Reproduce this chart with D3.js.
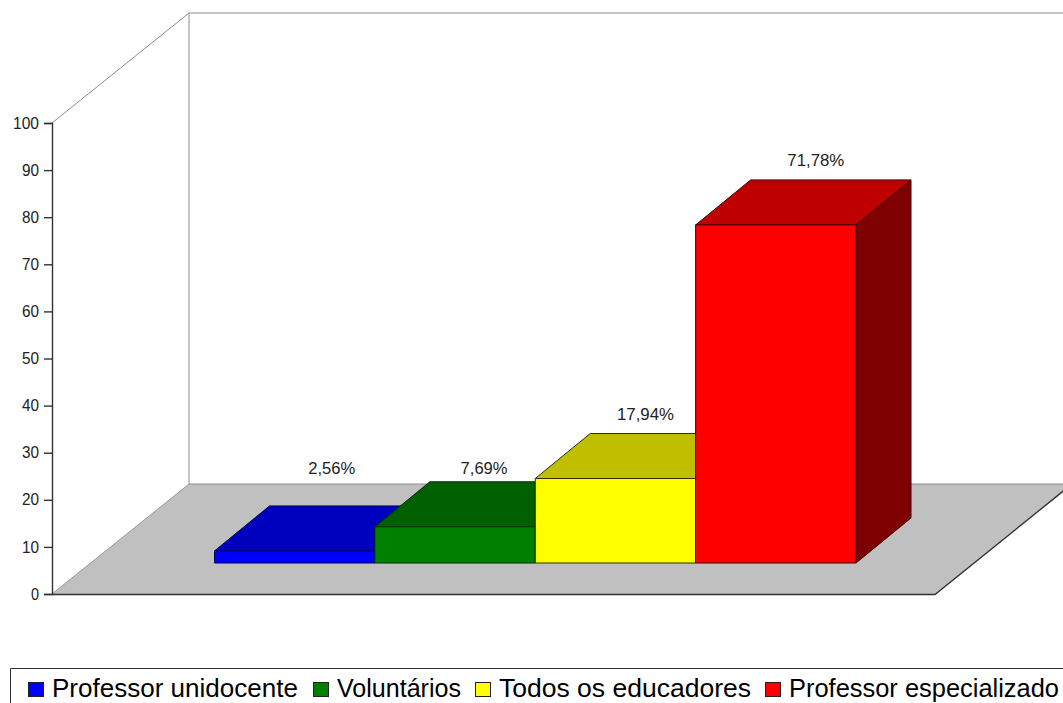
<!DOCTYPE html>
<html><head><meta charset="utf-8">
<script src="https://cdn.jsdelivr.net/npm/d3@7"></script>
<style>html,body{margin:0;padding:0;background:#fff;overflow:hidden}svg{display:block}text{font-family:"Liberation Sans",Arial,sans-serif}</style>
</head><body><div id="c"></div>
<script>
const categories = ["Professor unidocente","Voluntários","Todos os educadores","Professor especializado"];
const values = [2.56,7.69,17.94,71.78];
const valueLabels = ["2,56%","7,69%","17,94%","71,78%"];
const frontColors = ["#0000ff","#008000","#ffff00","#ff0000"];
const topColors = ["#0000bf","#006000","#bfbf00","#bf0000"];
const sideColors = ["#00007f","#004000","#7f7f00","#7f0000"];
const strokeColors = ["#000060","#003000","#303000","#400000"];
const yTicks = [0,10,20,30,40,50,60,70,80,90,100];
const labelLift = [38,14,20,20];
const labelShift = [37,29,30,40];
const legendX = [28,313,475,765];
const legendW = [246,124,252,270];

const W=1063,H=703;
const svg=d3.select("#c").append("svg").attr("width",W).attr("height",H);
const y=d3.scaleLinear().domain([0,100]).range([594,123]);
const x=d3.scaleBand().domain(categories).range([214.5,856]).padding(0);
const wallD=[137,-110], barD=[55,-45], barShift=-31;
const path=d3.line();
const axisX=52, floorR=935;

// walls and floor
svg.append("path").attr("d",path([[axisX,y(100)],[axisX+wallD[0],y(100)+wallD[1]],[W+20,y(100)+wallD[1]]]))
  .attr("fill","none").attr("stroke","#8c8c8c");
svg.append("path").attr("d",path([[axisX+wallD[0],y(100)+wallD[1]],[axisX+wallD[0],y(0)+wallD[1]]]))
  .attr("fill","none").attr("stroke","#8c8c8c");
svg.append("path").attr("d",path([[axisX,y(0)],[axisX+wallD[0],y(0)+wallD[1]],[floorR+wallD[0],y(0)+wallD[1]],[floorR,y(0)]])+"Z")
  .attr("fill","#c0c0c0").attr("stroke","none");
svg.append("path").attr("d",path([[axisX+wallD[0],y(0)+wallD[1]],[W+20,y(0)+wallD[1]]])).attr("fill","none").attr("stroke","#8c8c8c");
svg.append("path").attr("d",path([[axisX,y(0)+.5],[floorR,y(0)+.5],[floorR+wallD[0],y(0)+wallD[1]]])).attr("fill","none").attr("stroke","#333").attr("stroke-width",1.4);
svg.append("path").attr("d",path([[axisX,y(0)],[axisX+wallD[0],y(0)+wallD[1]]])).attr("fill","none").attr("stroke","#999");

// axis
const ax=svg.append("g").attr("transform",`translate(${axisX},0)`)
  .call(d3.axisLeft(y).tickValues(yTicks).tickSize(8).tickPadding(5).tickFormat(d3.format("d")));
ax.selectAll("path,line").attr("stroke","#333").attr("stroke-width",1.4);
ax.selectAll("text").attr("fill","#222").style("font-size","16px").style("font-family",'"Liberation Sans"')
  .attr("textLength",d=>d===100?26:d===0?8:17).attr("lengthAdjust","spacingAndGlyphs");

// bars
const g=svg.append("g").attr("stroke-width",1).attr("stroke-linejoin","round");
const bars=g.selectAll("g").data(categories).join("g").attr("stroke",(c,i)=>strokeColors[i]);
const [dx,dy]=barD;
const geom=(c,i)=>({x0:x(c),x1:x(c)+x.bandwidth(),t:y(values[i])+barShift,b:y(0)+barShift});
bars.append("path").attr("fill",(c,i)=>sideColors[i]).attr("d",(c,i)=>{const q=geom(c,i);
  return path([[q.x1,q.t],[q.x1+dx,q.t+dy],[q.x1+dx,q.b+dy],[q.x1,q.b]])+"Z"});
bars.append("path").attr("fill",(c,i)=>topColors[i]).attr("d",(c,i)=>{const q=geom(c,i);
  return path([[q.x0,q.t],[q.x0+dx,q.t+dy],[q.x1+dx,q.t+dy],[q.x1,q.t]])+"Z"});
bars.append("path").attr("fill",(c,i)=>frontColors[i]).attr("d",(c,i)=>{const q=geom(c,i);
  return path([[q.x0,q.t],[q.x1,q.t],[q.x1,q.b],[q.x0,q.b]])+"Z"});

// value labels
svg.append("g").selectAll("text").data(categories).join("text")
  .attr("x",(c,i)=>x(c)+x.bandwidth()/2+labelShift[i])
  .attr("y",(c,i)=>y(values[i])+barShift+dy-labelLift[i]+6)
  .attr("text-anchor","middle").attr("fill","#222").style("font-size","16px")
  .attr("textLength",(c,i)=>i<2?47:57).attr("lengthAdjust","spacingAndGlyphs")
  .text((c,i)=>valueLabels[i]);

// legend
svg.append("path").attr("d",path([[10.5,H+5],[10.5,668.5],[W+5,668.5]])).attr("fill","none").attr("stroke","#333");
const leg=svg.append("g").selectAll("g").data(categories).join("g").attr("transform",(c,i)=>`translate(${legendX[i]},0)`);
leg.append("rect").attr("x",0.5).attr("y",682.5).attr("width",15).attr("height",14)
  .attr("fill",(c,i)=>frontColors[i]).attr("stroke","#222");
leg.append("text").attr("x",24).attr("y",697).attr("fill","#000").style("font-size","25px")
  .attr("textLength",(c,i)=>legendW[i]).attr("lengthAdjust","spacingAndGlyphs").text(c=>c);
</script></body></html>
